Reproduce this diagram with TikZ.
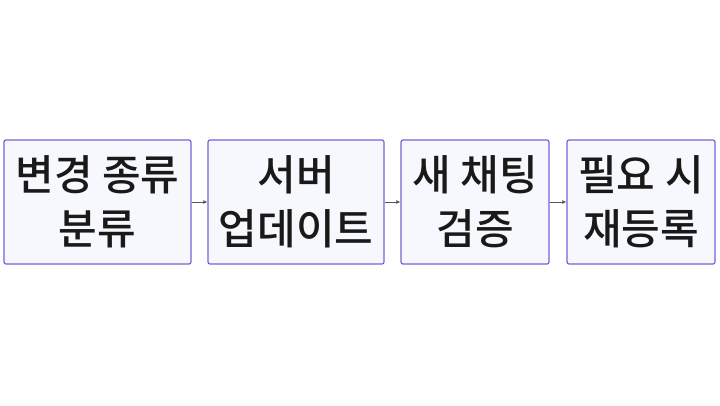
\documentclass[tikz,border=0pt]{standalone}
\usepackage{fontspec}
\setmainfont{Noto Sans CJK KR Medium}
\usetikzlibrary{arrows.meta}
\definecolor{boxborder}{HTML}{7463D6}
\definecolor{boxfill}{HTML}{F7F8FD}
\definecolor{arrowcol}{HTML}{555555}
\tikzset{
  stepbox/.style={draw=boxborder, fill=boxfill, line width=1.2pt, rounded corners=2pt,
    minimum height=124pt, inner sep=0pt, align=center,
    font=\fontsize{42pt}{54pt}\selectfont, text=black!90},
  flow/.style={draw=arrowcol, line width=0.9pt, -{Latex[length=4pt,width=4pt]}}
}
\begin{document}
\begin{tikzpicture}[x=1pt,y=1pt]
\useasboundingbox (0,0) rectangle (720,405);
\node[stepbox, minimum width=187pt] (a) at (97.5,203) {변경 종류\\분류};
\node[stepbox, minimum width=176pt] (b) at (296,203) {서버\\업데이트};
\node[stepbox, minimum width=148pt] (c) at (475,203) {새 채팅\\검증};
\node[stepbox, minimum width=148pt] (d) at (641,203) {필요 시\\재등록};
\draw[flow] (a) -- (b);
\draw[flow] (b) -- (c);
\draw[flow] (c) -- (d);
\end{tikzpicture}
\end{document}
